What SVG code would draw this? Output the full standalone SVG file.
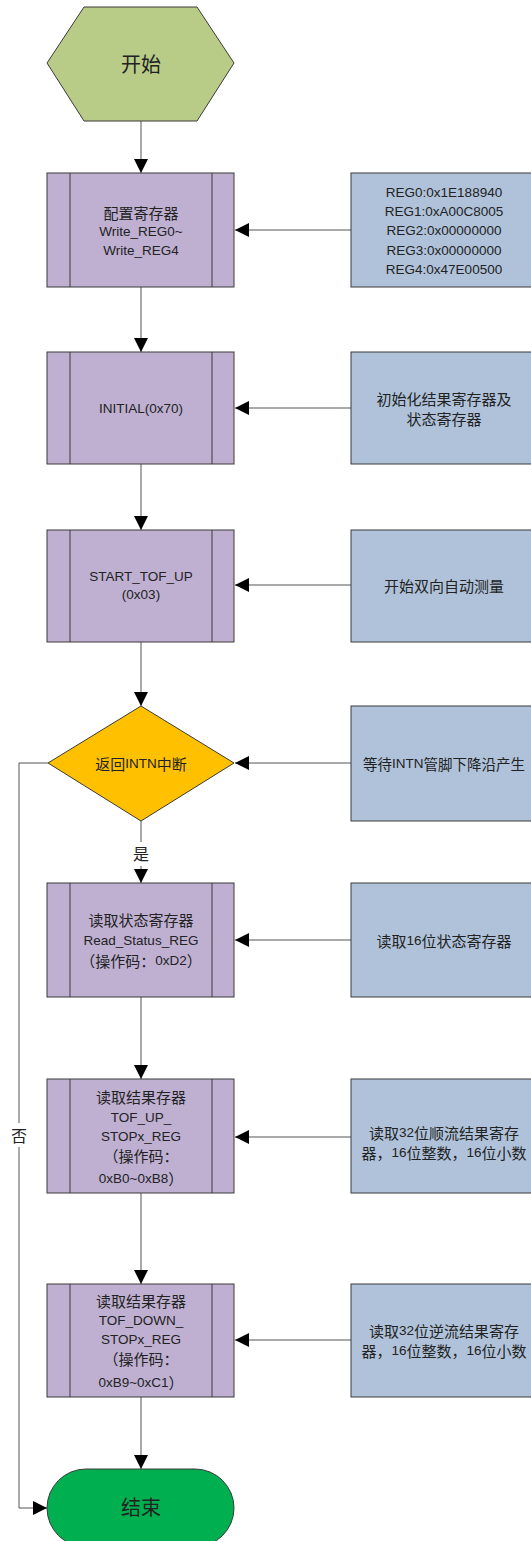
<svg xmlns="http://www.w3.org/2000/svg" width="531" height="1541" viewBox="0 0 531 1541">
<style>
.proc{fill:#BFB0D2;stroke:#3a3a3a;stroke-width:1}
.info{fill:#AFC2DA;stroke:#3a3a3a;stroke-width:1}
.inner{stroke:#3a3a3a;stroke-width:1;fill:none}
.t{font-family:"Liberation Sans","Noto Sans CJK SC",sans-serif;font-size:13.5px;fill:#222;text-anchor:middle;dominant-baseline:central}
.c{font-family:"Noto Sans CJK SC",sans-serif;font-size:15px}
.big{font-family:"Noto Sans CJK SC",sans-serif;font-size:20px;fill:#222;text-anchor:middle;dominant-baseline:central}
.lbl{font-family:"Noto Sans CJK SC",serif;font-size:16px;fill:#222;text-anchor:middle;dominant-baseline:central}
.conn{stroke:#555;stroke-width:1;fill:none}
</style>
<defs>
<marker id="arr" markerUnits="userSpaceOnUse" markerWidth="14" markerHeight="14" refX="14" refY="7" orient="auto">
<path d="M0,0 L14,7 L0,14 Z" fill="#000"/>
</marker>
</defs>
<rect width="531" height="1541" fill="#fff"/>

<g id="connectors">
<line class="conn" x1="141" y1="121" x2="141" y2="173" marker-end="url(#arr)"/>
<line class="conn" x1="141" y1="287" x2="141" y2="352" marker-end="url(#arr)"/>
<line class="conn" x1="141" y1="464" x2="141" y2="530" marker-end="url(#arr)"/>
<line class="conn" x1="141" y1="642" x2="141" y2="706" marker-end="url(#arr)"/>
<line class="conn" x1="141" y1="821" x2="141" y2="883" marker-end="url(#arr)"/>
<line class="conn" x1="141" y1="997" x2="141" y2="1079" marker-end="url(#arr)"/>
<line class="conn" x1="141" y1="1193" x2="141" y2="1284" marker-end="url(#arr)"/>
<line class="conn" x1="141" y1="1397" x2="141" y2="1469" marker-end="url(#arr)"/>
<polyline class="conn" points="48,763 19,763 19,1508 47,1508" marker-end="url(#arr)"/>
<line class="conn" x1="351" y1="230" x2="235" y2="230" marker-end="url(#arr)"/>
<line class="conn" x1="351" y1="408" x2="235" y2="408" marker-end="url(#arr)"/>
<line class="conn" x1="351" y1="585" x2="235" y2="585" marker-end="url(#arr)"/>
<line class="conn" x1="351" y1="763" x2="235" y2="763" marker-end="url(#arr)"/>
<line class="conn" x1="351" y1="940" x2="235" y2="940" marker-end="url(#arr)"/>
<line class="conn" x1="351" y1="1137" x2="235" y2="1137" marker-end="url(#arr)"/>
<line class="conn" x1="351" y1="1340" x2="235" y2="1340" marker-end="url(#arr)"/>
<rect x="130" y="842" width="22" height="24" fill="#fff"/>
<text class="lbl" x="141" y="853">是</text>
<rect x="8" y="1123" width="22" height="24" fill="#fff"/>
<text class="lbl" x="19" y="1135">否</text>
</g>

<g id="start">
<polygon points="84,7 197,7 234,63 197,121 84,121 47,63" fill="#B8CC88" stroke="#3a3a3a" stroke-width="1"/>
<text class="big" x="141" y="63">开始</text>
</g>

<g id="config">
<rect class="proc" x="47" y="173" width="187" height="114"/>
<line class="inner" x1="70" y1="173" x2="70" y2="287"/>
<line class="inner" x1="212" y1="173" x2="212" y2="287"/>
<text class="t" x="141" y="212"><tspan class="c">配置寄存器</tspan></text>
<text class="t" x="141" y="231">Write_REG0~</text>
<text class="t" x="141" y="250">Write_REG4</text>
</g>
<g id="config-info">
<rect class="info" x="351" y="173" width="187" height="114"/>
<text class="t" x="444" y="192">REG0:0x1E188940</text>
<text class="t" x="444" y="211">REG1:0xA00C8005</text>
<text class="t" x="444" y="230">REG2:0x00000000</text>
<text class="t" x="444" y="250">REG3:0x00000000</text>
<text class="t" x="444" y="269">REG4:0x47E00500</text>
</g>

<g id="initial">
<rect class="proc" x="47" y="352" width="187" height="112"/>
<line class="inner" x1="70" y1="352" x2="70" y2="464"/>
<line class="inner" x1="212" y1="352" x2="212" y2="464"/>
<text class="t" x="141" y="408">INITIAL(0x70)</text>
</g>
<g id="initial-info">
<rect class="info" x="351" y="352" width="187" height="112"/>
<text class="t" x="444" y="398"><tspan class="c">初始化结果寄存器及</tspan></text>
<text class="t" x="444" y="418"><tspan class="c">状态寄存器</tspan></text>
</g>

<g id="start-tof">
<rect class="proc" x="47" y="530" width="187" height="112"/>
<line class="inner" x1="70" y1="530" x2="70" y2="642"/>
<line class="inner" x1="212" y1="530" x2="212" y2="642"/>
<text class="t" x="141" y="576">START_TOF_UP</text>
<text class="t" x="141" y="594">(0x03)</text>
</g>
<g id="start-tof-info">
<rect class="info" x="351" y="530" width="187" height="112"/>
<text class="t" x="444" y="585"><tspan class="c">开始双向自动测量</tspan></text>
</g>

<g id="decision">
<polygon points="141,706 234,763 141,821 48,763" fill="#FFC000" stroke="#3a3a3a" stroke-width="1"/>
<text class="t" x="141" y="763"><tspan class="c">返回</tspan>INTN<tspan class="c">中断</tspan></text>
</g>
<g id="decision-info">
<rect class="info" x="351" y="706" width="187" height="115"/>
<text class="t" x="444" y="763"><tspan class="c" style="font-size:14.5px">等待</tspan>INTN<tspan class="c" style="font-size:14.5px">管脚下降沿产生</tspan></text>
</g>

<g id="read-status">
<rect class="proc" x="47" y="883" width="187" height="114"/>
<line class="inner" x1="70" y1="883" x2="70" y2="997"/>
<line class="inner" x1="212" y1="883" x2="212" y2="997"/>
<text class="t" x="141" y="919"><tspan class="c">读取状态寄存器</tspan></text>
<text class="t" x="141" y="940">Read_Status_REG</text>
<text class="t" x="141" y="960"><tspan class="c">（操作码：</tspan>0xD2<tspan class="c">）</tspan></text>
</g>
<g id="read-status-info">
<rect class="info" x="351" y="883" width="187" height="114"/>
<text class="t" x="444" y="940"><tspan class="c">读取</tspan>16<tspan class="c">位状态寄存器</tspan></text>
</g>

<g id="read-up">
<rect class="proc" x="47" y="1079" width="187" height="114"/>
<line class="inner" x1="70" y1="1079" x2="70" y2="1193"/>
<line class="inner" x1="212" y1="1079" x2="212" y2="1193"/>
<text class="t" x="141" y="1096"><tspan class="c">读取结果存器</tspan></text>
<text class="t" x="141" y="1117">TOF_UP_</text>
<text class="t" x="141" y="1136">STOPx_REG</text>
<text class="t" x="141" y="1155"><tspan class="c">（操作码：</tspan></text>
<text class="t" x="141" y="1178">0xB0~0xB8<tspan class="c">）</tspan></text>
</g>
<g id="read-up-info">
<rect class="info" x="351" y="1079" width="187" height="114"/>
<text class="t" x="444" y="1132"><tspan class="c">读取</tspan>32<tspan class="c">位顺流结果寄存</tspan></text>
<text class="t" x="444" y="1152"><tspan class="c">器，</tspan>16<tspan class="c">位整数，</tspan>16<tspan class="c">位小数</tspan></text>
</g>

<g id="read-down">
<rect class="proc" x="47" y="1284" width="187" height="113"/>
<line class="inner" x1="70" y1="1284" x2="70" y2="1397"/>
<line class="inner" x1="212" y1="1284" x2="212" y2="1397"/>
<text class="t" x="141" y="1300"><tspan class="c">读取结果存器</tspan></text>
<text class="t" x="141" y="1320">TOF_DOWN_</text>
<text class="t" x="141" y="1339">STOPx_REG</text>
<text class="t" x="141" y="1358"><tspan class="c">（操作码：</tspan></text>
<text class="t" x="141" y="1382">0xB9~0xC1<tspan class="c">）</tspan></text>
</g>
<g id="read-down-info">
<rect class="info" x="351" y="1284" width="187" height="113"/>
<text class="t" x="444" y="1330"><tspan class="c">读取</tspan>32<tspan class="c">位逆流结果寄存</tspan></text>
<text class="t" x="444" y="1350"><tspan class="c">器，</tspan>16<tspan class="c">位整数，</tspan>16<tspan class="c">位小数</tspan></text>
</g>

<g id="end">
<rect x="47" y="1469" width="187" height="78" rx="39" ry="39" fill="#00B050" stroke="#3a3a3a" stroke-width="1"/>
<text class="big" x="141" y="1506">结束</text>
</g>
</svg>
